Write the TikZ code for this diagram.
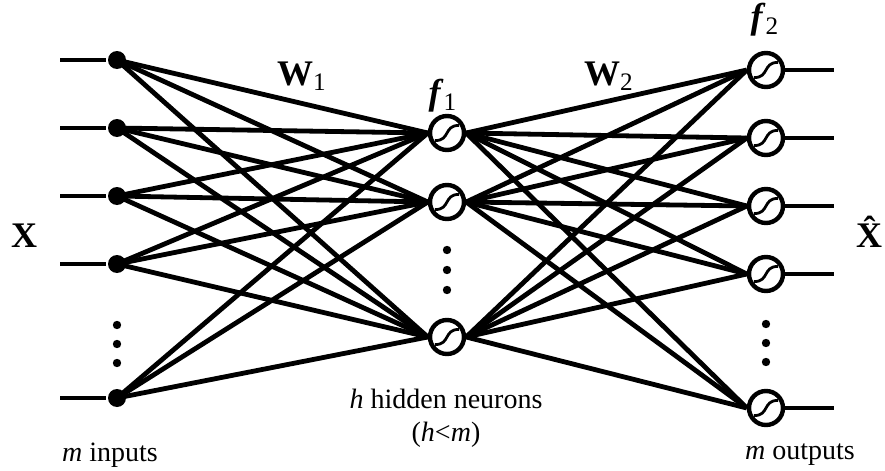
\documentclass[tikz,border=0pt]{standalone}
\usepackage{fontspec}
\setmainfont{Liberation Serif}
\begin{document}
\begin{tikzpicture}[x=0.5pt, y=-0.5pt, line width=2.4pt,
		every node/.style={font=\fontsize{14}{16.5}\selectfont},
		biglabel/.style={font=\fontsize{18}{20}\selectfont},
		inputdot/.style={circle, fill=black, inner sep=0pt, minimum size=9pt},
		neuron/.style={circle, draw, fill=white, inner sep=0pt, minimum size=17pt, line width=2.2pt,
			path picture={\draw[line width=1.4pt] ([shift={(-6pt,-3.8pt)}]path picture bounding box.center)
				.. controls ([shift={(1.8pt,-3.8pt)}]path picture bounding box.center)
				and ([shift={(-1.8pt,3.8pt)}]path picture bounding box.center)
				.. ([shift={(6pt,3.8pt)}]path picture bounding box.center);}},
		vdot/.style={circle, fill=black, inner sep=0pt, minimum size=4.2pt}]
	\useasboundingbox (0,0) rectangle (885,471);
	
	% 1. 输入层
	\foreach \i/\y in {1/60, 2/128, 3/196, 4/264, 5/398} {
		\coordinate (inl\i) at (60,\y);
		\node[inputdot] (in\i) at (117,\y) {};
	}
	
	% 2. 隐含层与输出层
	\foreach \j/\y in {1/133, 2/202, 3/337}
		\node[neuron] (hid\j) at (447,\y) {};
	\foreach \k/\y in {1/70, 2/138, 3/206, 4/274, 5/408} {
		\node[neuron] (out\k) at (766,\y) {};
		\coordinate (outr\k) at (834,\y);
	}
	
	% 3. 连接线
	\foreach \i in {1,...,5} {
		\draw (inl\i) -- (in\i);
		\foreach \j in {1,2,3}
			\draw (in\i.center) -- (hid\j.west);
	}
	\foreach \k in {1,...,5} {
		\draw (out\k.east) -- (outr\k);
		\foreach \j in {1,2,3}
			\draw (hid\j.east) -- (out\k.west);
	}
	
	% 省略号
	\foreach \y [count=\n] in {325, 344, 363} {
		\node[vdot] (indot\n) at (117,\y) {};
		\node[vdot] (outdot\n) at (766,\y-1) {};
	}
	\foreach \y [count=\n] in {250, 270, 290}
		\node[vdot] (hiddot\n) at (447,\y) {};
	
	% 4. 标注
	\node[biglabel] (w1) at (302,76) {\textbf{W}\textsubscript{1}};
	\node[biglabel] (w2) at (609,76) {\textbf{W}\textsubscript{2}};
	\node[biglabel] (f1) at (443,96) {\textbf{\textit{f}}\textsubscript{1}};
	\node[biglabel] (f2) at (765,20) {\textbf{\textit{f}}\textsubscript{2}};
	\node[biglabel] (xin) at (24,236) {\textbf{X}};
	\node[biglabel] (xout) at (872,232) {\textbf{\^{X}}};
	\node[align=center] (hidtxt) at (446,418) {\textit{h} hidden neurons\\(\textit{h}<\textit{m})};
	\node (intxt) at (110,455) {\textit{m} inputs};
	\node (outtxt) at (800,455) {\textit{m} outputs};
\end{tikzpicture}
\end{document}
